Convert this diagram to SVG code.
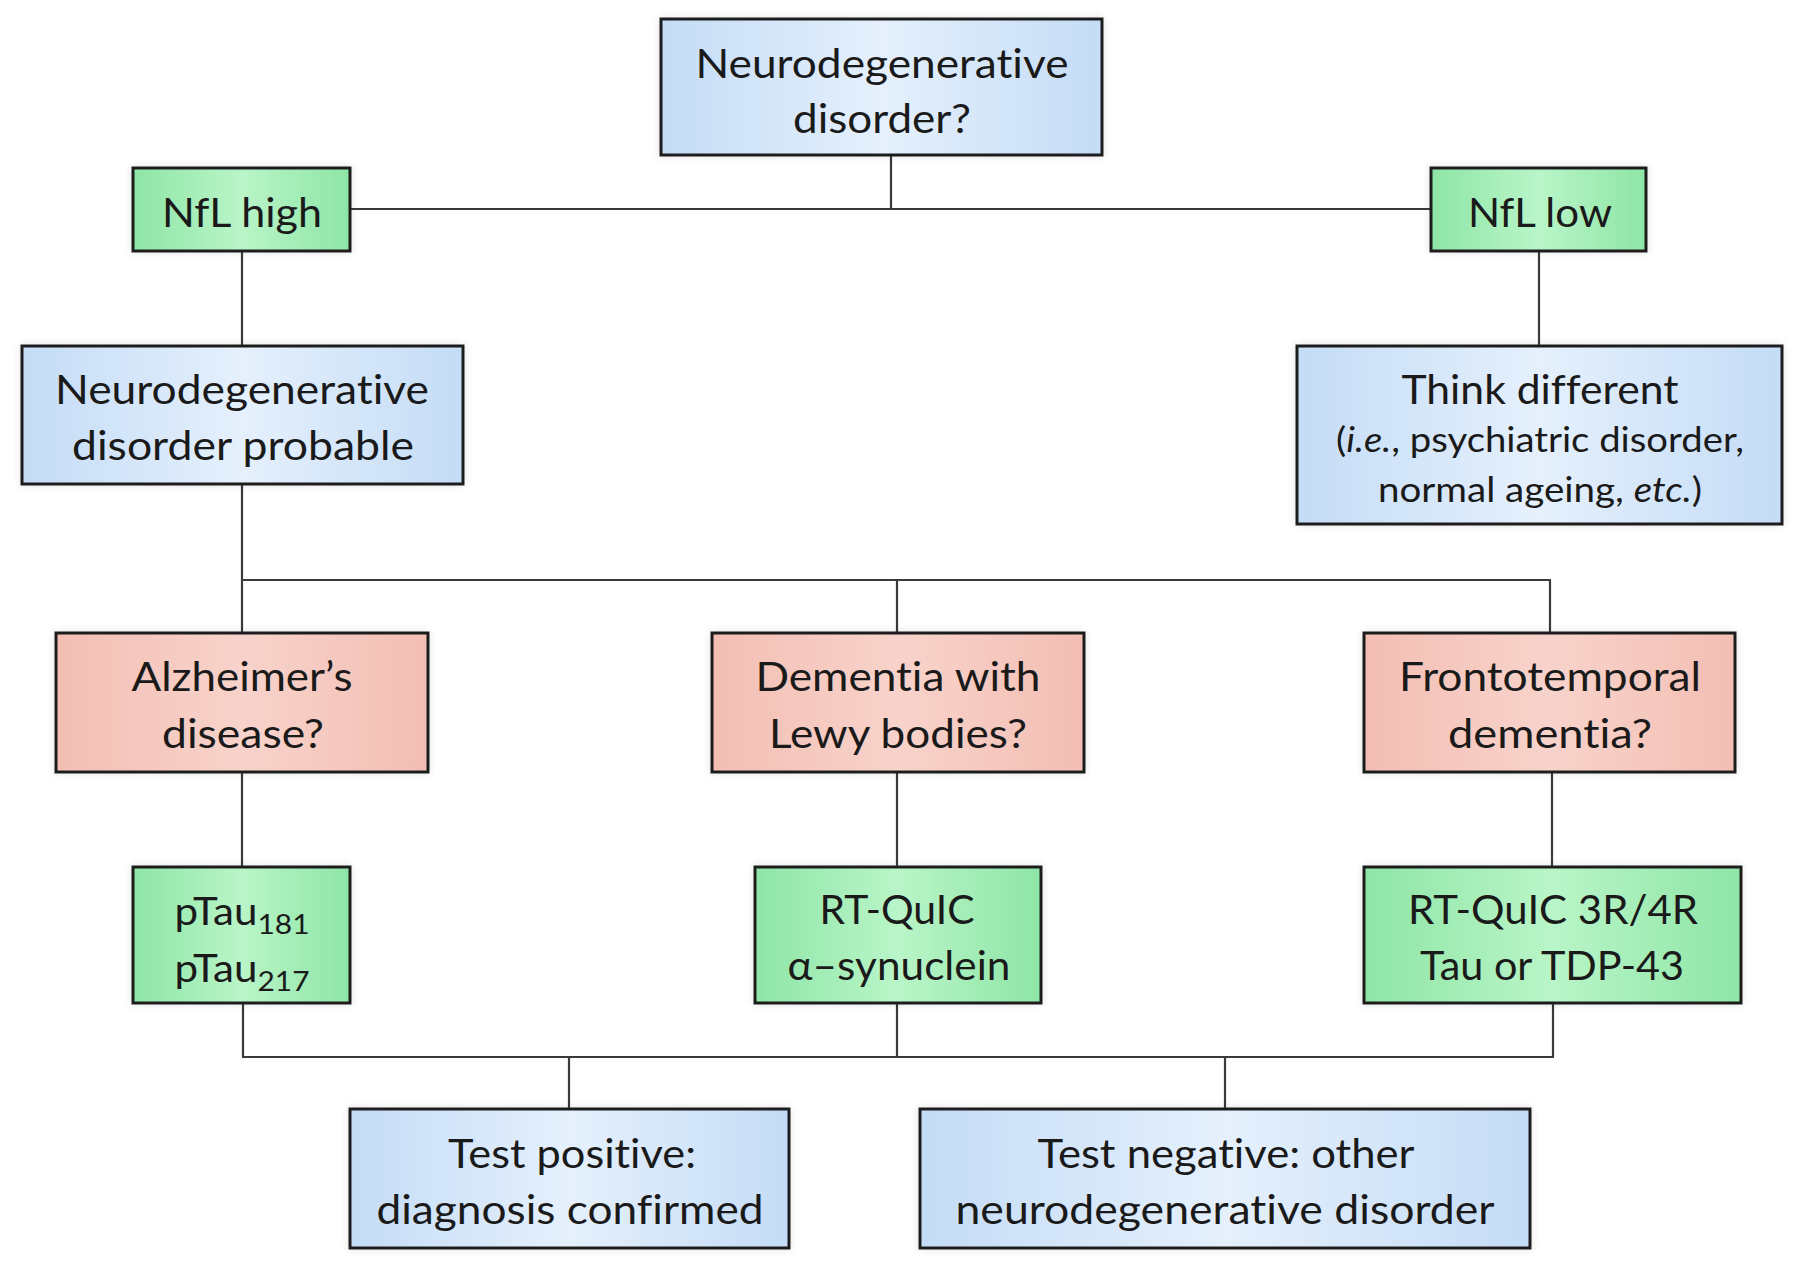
<svg xmlns="http://www.w3.org/2000/svg" width="1800" height="1272" viewBox="0 0 1800 1272">
<defs>
<linearGradient id="gBlue" x1="0" y1="0" x2="1" y2="0">
<stop offset="0" stop-color="#c4dcf6"/><stop offset="0.5" stop-color="#e5f0fc"/><stop offset="1" stop-color="#c4dcf6"/>
</linearGradient>
<linearGradient id="gGreen" x1="0" y1="0" x2="1" y2="0">
<stop offset="0" stop-color="#8ee5a6"/><stop offset="0.5" stop-color="#b9f5c8"/><stop offset="1" stop-color="#8ee5a6"/>
</linearGradient>
<linearGradient id="gPink" x1="0" y1="0" x2="1" y2="0">
<stop offset="0" stop-color="#f3beb3"/><stop offset="0.5" stop-color="#f8d3cb"/><stop offset="1" stop-color="#f3beb3"/>
</linearGradient>
<filter id="sh" x="-5%" y="-10%" width="110%" height="120%">
<feGaussianBlur in="SourceAlpha" stdDeviation="4"/>
<feComponentTransfer><feFuncA type="linear" slope="0.12"/></feComponentTransfer>
<feMerge><feMergeNode/><feMergeNode in="SourceGraphic"/></feMerge>
</filter>
</defs>
<style>
.box{stroke:#1e1e1e;stroke-width:3;filter:url(#sh)}
.blue{fill:url(#gBlue)}
.green{fill:url(#gGreen)}
.pink{fill:url(#gPink)}
.t{font-family:Lato,"Open Sans","Liberation Sans",sans-serif;font-size:41px;fill:#1a1a1a;text-anchor:middle;font-variant-ligatures:none}
.s{font-size:34px}
.p{font-size:38px}
.sub{font-size:27px}
.conn line{stroke:#3a3a3a;stroke-width:2.2}
</style>
<rect width="1800" height="1272" fill="#ffffff"/>
<g class="conn" id="connectors">
<line x1="891" y1="155" x2="891" y2="209"/>
<line x1="350" y1="209" x2="1431" y2="209"/>
<line x1="242" y1="251" x2="242" y2="346"/>
<line x1="1539" y1="251" x2="1539" y2="346"/>
<line x1="242" y1="484" x2="242" y2="633"/>
<line x1="241" y1="580" x2="1551" y2="580"/>
<line x1="897" y1="580" x2="897" y2="633"/>
<line x1="1550" y1="580" x2="1550" y2="633"/>
<line x1="242" y1="772" x2="242" y2="867"/>
<line x1="897" y1="772" x2="897" y2="867"/>
<line x1="1552" y1="772" x2="1552" y2="867"/>
<line x1="243" y1="1003" x2="243" y2="1057"/>
<line x1="897" y1="1003" x2="897" y2="1057"/>
<line x1="1553" y1="1003" x2="1553" y2="1057"/>
<line x1="242" y1="1057" x2="1554" y2="1057"/>
<line x1="569" y1="1057" x2="569" y2="1109"/>
<line x1="1225" y1="1057" x2="1225" y2="1109"/>
</g>
<g id="n-top">
<rect class="box blue" x="661" y="19" width="441" height="136"/>
<text class="t" x="882" y="78" textLength="373" lengthAdjust="spacingAndGlyphs">Neurodegenerative</text>
<text class="t" x="882" y="133" textLength="178" lengthAdjust="spacingAndGlyphs">disorder?</text>
</g>
<g id="n-nfl-high">
<rect class="box green" x="133" y="168" width="217" height="83"/>
<text class="t" x="242" y="227" textLength="160" lengthAdjust="spacingAndGlyphs">NfL high</text>
</g>
<g id="n-nfl-low">
<rect class="box green" x="1431" y="168" width="215" height="83"/>
<text class="t" x="1540" y="227" textLength="144" lengthAdjust="spacingAndGlyphs">NfL low</text>
</g>
<g id="n-probable">
<rect class="box blue" x="22" y="346" width="441" height="138"/>
<text class="t" x="242" y="404" textLength="374" lengthAdjust="spacingAndGlyphs">Neurodegenerative</text>
<text class="t" x="243" y="460" textLength="342" lengthAdjust="spacingAndGlyphs">disorder probable</text>
</g>
<g id="n-think">
<rect class="box blue" x="1297" y="346" width="485" height="178"/>
<text class="t" x="1540" y="404" textLength="277" lengthAdjust="spacingAndGlyphs">Think different</text>
<text class="t s" x="1540" y="452" textLength="408" lengthAdjust="spacingAndGlyphs">(<tspan font-style="italic">i.e.</tspan>, psychiatric disorder,</text>
<text class="t s" x="1540" y="502" textLength="324" lengthAdjust="spacingAndGlyphs">normal ageing, <tspan font-style="italic">etc.</tspan>)</text>
</g>
<g id="n-ad">
<rect class="box pink" x="56" y="633" width="372" height="139"/>
<text class="t" x="242" y="691" textLength="221" lengthAdjust="spacingAndGlyphs">Alzheimer’s</text>
<text class="t" x="243" y="748" textLength="162" lengthAdjust="spacingAndGlyphs">disease?</text>
</g>
<g id="n-dlb">
<rect class="box pink" x="712" y="633" width="372" height="139"/>
<text class="t" x="898" y="691" textLength="285" lengthAdjust="spacingAndGlyphs">Dementia with</text>
<text class="t" x="898" y="748" textLength="258" lengthAdjust="spacingAndGlyphs">Lewy bodies?</text>
</g>
<g id="n-ftd">
<rect class="box pink" x="1364" y="633" width="371" height="139"/>
<text class="t" x="1550" y="691" textLength="302" lengthAdjust="spacingAndGlyphs">Frontotemporal</text>
<text class="t" x="1550" y="748" textLength="204" lengthAdjust="spacingAndGlyphs">dementia?</text>
</g>
<g id="n-ptau">
<rect class="box green" x="133" y="867" width="217" height="136"/>
<text class="t p" x="242" y="925" textLength="135" lengthAdjust="spacingAndGlyphs">pTau<tspan class="sub" dy="9">181</tspan></text>
<text class="t p" x="242" y="982" textLength="135" lengthAdjust="spacingAndGlyphs">pTau<tspan class="sub" dy="9">217</tspan></text>
</g>
<g id="n-rtquic-a">
<rect class="box green" x="755" y="867" width="286" height="136"/>
<text class="t" x="897" y="924" textLength="155" lengthAdjust="spacingAndGlyphs">RT-QuIC</text>
<text class="t" x="899" y="980" textLength="223" lengthAdjust="spacingAndGlyphs">α–synuclein</text>
</g>
<g id="n-rtquic-tau">
<rect class="box green" x="1364" y="867" width="377" height="136"/>
<text class="t" x="1553" y="924" textLength="290" lengthAdjust="spacingAndGlyphs">RT-QuIC 3R/4R</text>
<text class="t" x="1552" y="980" textLength="264" lengthAdjust="spacingAndGlyphs">Tau or TDP-43</text>
</g>
<g id="n-positive">
<rect class="box blue" x="350" y="1109" width="439" height="139"/>
<text class="t" x="572" y="1168" textLength="248" lengthAdjust="spacingAndGlyphs">Test positive:</text>
<text class="t" x="570" y="1224" textLength="387" lengthAdjust="spacingAndGlyphs">diagnosis confirmed</text>
</g>
<g id="n-negative">
<rect class="box blue" x="920" y="1109" width="610" height="139"/>
<text class="t" x="1226" y="1168" textLength="377" lengthAdjust="spacingAndGlyphs">Test negative: other</text>
<text class="t" x="1225" y="1224" textLength="539" lengthAdjust="spacingAndGlyphs">neurodegenerative disorder</text>
</g>
</svg>
